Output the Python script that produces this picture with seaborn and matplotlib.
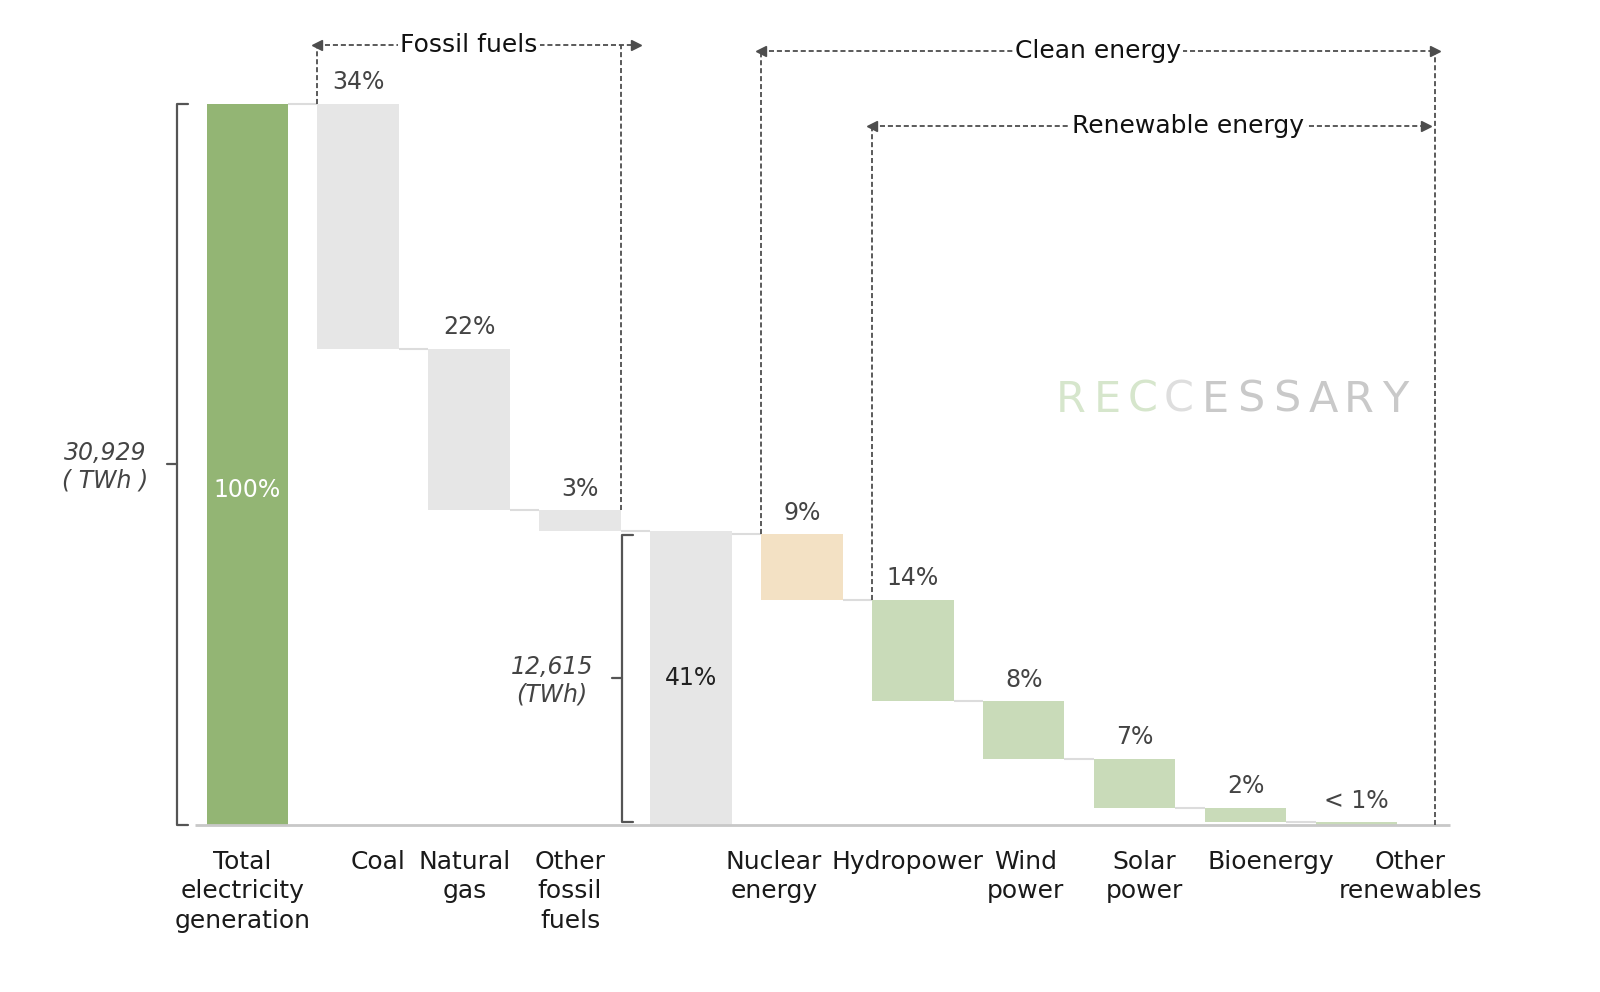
import matplotlib
matplotlib.use("Agg")
import matplotlib.pyplot as plt
import matplotlib.transforms as mtransforms
import numpy as np
import pandas as pd
import seaborn as sns

# ---------------- data ----------------
keys = ["total", "coal", "gas", "other_fossil", "clean", "nuclear",
        "hydro", "wind", "solar", "bio", "other_ren"]
tick_labels = ["Total\nelectricity\ngeneration", "Coal", "Natural\ngas",
               "Other\nfossil\nfuels", "", "Nuclear\nenergy", "Hydropower",
               "Wind\npower", "Solar\npower", "Bioenergy", "Other\nrenewables"]
total_share = 100.0
fossil_shares = [34.0, 22.4, 2.8]
clean_shares = [9.1, 14.1, 8.0, 6.8, 2.0, 0.3]
pct_labels = ["100%", "34%", "22%", "3%", "41%", "9%", "14%", "8%", "7%", "2%", "< 1%"]
total_twh = "30,929\n( TWh )"
clean_twh = "12,615\n(TWh)"
group_labels = ["Fossil fuels", "Clean energy", "Renewable energy"]
watermark = "RECCESSARY"

# ---------------- derived waterfall ----------------
clean_total = total_share - sum(fossil_shares)
heights = [total_share] + fossil_shares + [clean_total] + clean_shares
bottoms = [0.0]
level = total_share
for v in fossil_shares:
    level -= v
    bottoms.append(level)
bottoms.append(0.0)
level = sum(clean_shares)
for v in clean_shares:
    level -= v
    bottoms.append(max(level, 0.0))
tops = [b + h for b, h in zip(bottoms, heights)]

GREEN = "#93b574"
GREY = "#e6e6e6"
PEACH = "#f3e1c4"
LGREEN = "#c9dbb9"
colors = [GREEN, GREY, GREY, GREY, GREY, PEACH, LGREEN, LGREEN, LGREEN, LGREEN, LGREEN]

df = pd.DataFrame({"key": keys, "height": heights, "bottom": bottoms})

# ---------------- figure ----------------
sns.set_theme(style="white")
plt.rcParams["font.family"] = ["DejaVu Sans"]

fig = plt.figure(figsize=(16, 9.92), dpi=100)
ax = fig.add_axes([0.0, 0.16885, 1.0, 0.83115])

BW = 0.736
for i in range(len(df)):
    sns.barplot(data=df.iloc[[i]], x="key", y="height", order=keys,
                color=colors[i], saturation=1, width=BW, errorbar=None,
                bottom=df["bottom"].iloc[i], linewidth=0, ax=ax, zorder=2)

ax.set_xlim(-2.230, 12.197)
ax.set_ylim(0, 114.45)
ax.set_frame_on(False)
ax.set_yticks([])
ax.set_xlabel("")
ax.set_ylabel("")
ax.set_xticks(range(len(keys)))
ax.set_xticklabels(tick_labels, fontsize=18, color="#1a1a1a", linespacing=1.3)
ax.tick_params(axis="x", length=0, pad=18)

# small horizontal nudges of the category captions (pixels), as in the reference layout
label_dx_px = [-5, 20, -4, -10, 0, -28, -5, 2, 10, 25, 54]
for lab, dx in zip(ax.get_xticklabels(), label_dx_px):
    lab.set_transform(lab.get_transform() +
                      mtransforms.ScaledTranslation(dx / 100, 0, fig.dpi_scale_trans))

half = BW / 2
# baseline
ax.plot([-0.47, 10.84], [0, 0], color="#c8c8c8", lw=2, zorder=3, clip_on=False,
        solid_capstyle="butt")

# connectors
for i in range(len(keys) - 1):
    ax.plot([i + half, i + 1 - half], [tops[i + 1], tops[i + 1]],
            color="#dcdcdc", lw=1.5, zorder=1, solid_capstyle="butt")

# value labels
LBL = "#444444"
for i, lab in enumerate(pct_labels):
    if i == 0:
        ax.text(i, 46.5, lab, ha="center", va="center", fontsize=17, color="white", zorder=4)
    elif i == 4:
        ax.text(i, heights[i] / 2, lab, ha="center", va="center", fontsize=17, color="#222222", zorder=4)
    else:
        ax.text(i, tops[i] + 3.0, lab, ha="center", va="center", fontsize=17, color=LBL, zorder=4)

# brackets
BRK = "#555555"
def bracket(x, y0, y1, tick_len, end_len, text, tx):
    ax.plot([x + end_len, x, x, x + end_len], [y1, y1, y0, y0], color=BRK, lw=1.6,
            zorder=3, clip_on=False)
    ym = (y0 + y1) / 2
    ax.plot([x - tick_len, x], [ym, ym], color=BRK, lw=1.6, zorder=3)
    ax.text(tx, ym - 0.3, text, ha="center", va="center", fontsize=17, color=LBL,
            fontstyle="italic", linespacing=1.2)

b1 = -half - 0.27
bracket(b1, 0.0, total_share, 0.09, 0.10, total_twh, b1 - 0.64)
b2 = 4 - half - 0.257
bracket(b2, 0.4, tops[5] - 0.1, 0.09, 0.10, clean_twh, b2 - 0.63)

# dashed group arrows
DASH = "#4d4d4d"
LS = (0, (2.8, 1.6))
def vline(x, y0, y1):
    ax.plot([x, x], [y0, y1], color=DASH, lw=1.3, ls=LS, zorder=3)

def harrow(x0, x1, y, text, tx, fs=18):
    ax.plot([x0, x1], [y, y], color=DASH, lw=1.3, ls=LS, zorder=3)
    ax.plot([x0], [y], marker="<", ms=7, color=DASH, zorder=4, clip_on=False)
    ax.plot([x1], [y], marker=">", ms=7, color=DASH, zorder=4, clip_on=False)
    ax.text(tx, y, text, ha="center", va="center", fontsize=fs, color="#111111", zorder=5,
            bbox=dict(facecolor="white", edgecolor="none", pad=1.5))

# fossil fuels
fx0 = 1 - half
fx1 = 3 + half
y_f = 108.2
vline(fx0, tops[1], y_f)
vline(fx1, tops[3], y_f)
harrow(fx0, fx1 + 0.135, y_f, group_labels[0], (fx0 + fx1) / 2)

# clean energy
cx0 = 5 - half
cx1 = 10.707
y_c = 107.4
vline(cx0, tops[5], y_c)
vline(cx1, 0, y_c)
harrow(cx0, cx1, y_c, group_labels[1], (cx0 + cx1) / 2)

# renewable energy
rx0 = 6 - half
rx1 = cx1 - 0.08
y_r = 96.9
vline(rx0, tops[6], y_r)
harrow(rx0, rx1, y_r, group_labels[2], (rx0 + rx1) / 2 + 0.35)

# watermark
wm_colors = ["#d6e6cc"] * 3 + ["#dedede"] + ["#c9c9c9"] * 6
for i, ch in enumerate(watermark):
    fig.text((1071 + 36 * i) / 1600, 1 - 400 / 992, ch, ha="center", va="center",
             fontsize=31, color=wm_colors[i], zorder=0)

fig.savefig("out.png", dpi=100)
